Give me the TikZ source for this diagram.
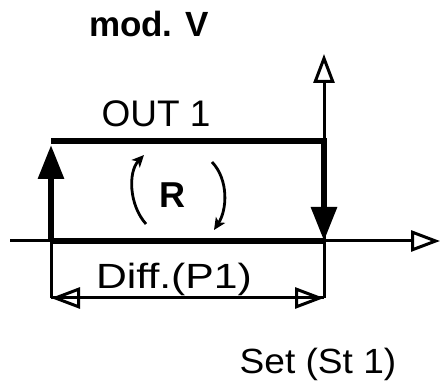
\documentclass[tikz,border=0pt]{standalone}
\usepackage{fontspec}
\usepackage{graphicx}
\setmainfont{Liberation Sans}
\usetikzlibrary{arrows.meta}
\begin{document}
\begin{tikzpicture}[x=1pt,y=-1pt,
  thinl/.style={line width=3pt},
  thickl/.style={line width=6pt},
  filltip/.style={-{Triangle[length=34pt,width=25pt]}},
  opentip/.style={-{Triangle[open,length=29pt,width=21pt]}},
  curvtip/.style={-{Stealth[length=12pt,width=11pt,inset=3pt]}},
  lbl/.style={inner sep=0pt,anchor=base}]
\useasboundingbox (0,0) rectangle (440,382);
% coordinates
\coordinate (L) at (51,241);
\coordinate (LT) at (51,141);
\coordinate (R) at (324,241);
\coordinate (RT) at (324,141);
\coordinate (Rtop) at (324,54);
\coordinate (Xl) at (10,241);
\coordinate (Xr) at (440,241);
\coordinate (Ld) at (51,298);
\coordinate (Rd) at (324,298);
\coordinate (LTa) at (51,145);
% axes
\draw[thinl,opentip] (Xl) -- (Xr);
\draw[thinl,opentip] (R) -- (Rtop);
% thick hysteresis
\draw[thickl] (L) -- (R);
\draw[thickl] (LT) -- ([xshift=3pt]RT);
\draw[thickl,filltip] (L) -- (LTa);
\draw[thickl,filltip] (RT) -- (R);
% dimension
\draw[thinl] (L) -- (Ld);
\draw[thinl] (R) -- (Rd);
\draw[thinl,opentip] (Ld) -- (Rd);
\draw[thinl,opentip] (Rd) -- (Ld);
% rotation arrows
\coordinate (a1) at (146,224);
\coordinate (a2) at (144,155);
\coordinate (b1) at (212,162);
\coordinate (b2) at (214,230);
\draw[line width=2.8pt,curvtip] (a1) .. controls (129,205) and (128,172) .. (a2);
\draw[line width=2.8pt,curvtip] (b1) .. controls (229,180) and (227,210) .. (b2);
% labels
\node[lbl,font=\fontsize{35}{35}\selectfont\bfseries] (title) at (149,37) {mod. V};
\node[lbl,font=\fontsize{37}{37}\selectfont] (out) at (156,127) {OUT 1};
\node[lbl,font=\fontsize{36}{36}\selectfont\bfseries] (rr) at (172,208) {R};
\node[lbl,font=\fontsize{35}{35}\selectfont] (diff) at (174,289) {\scalebox{1.22}[1]{Diff.(P1)}};
\node[lbl,font=\fontsize{35}{35}\selectfont] (set) at (318,374) {\scalebox{1.06}[1]{Set (St 1)}};
\end{tikzpicture}
\end{document}
